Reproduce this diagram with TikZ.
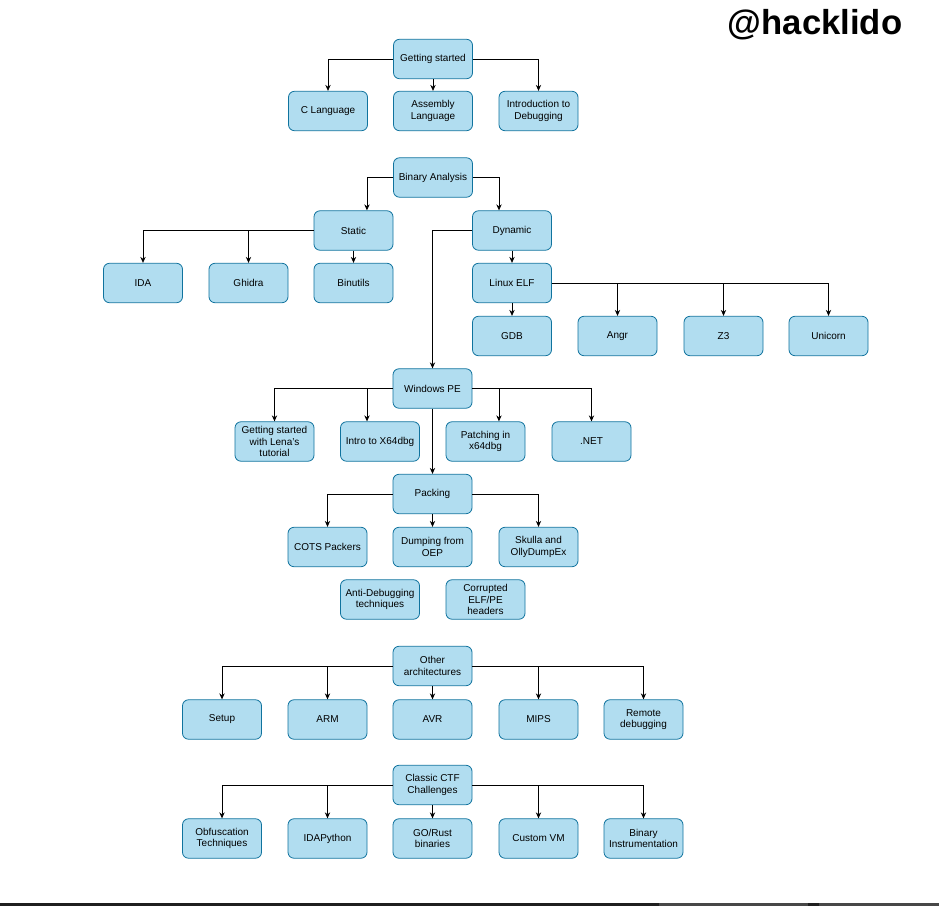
\documentclass[tikz,border=0pt]{standalone}
\usepackage{fontspec}
\setmainfont{Liberation Sans}
\usetikzlibrary{arrows.meta}
\definecolor{boxfill}{HTML}{B1DDF0}
\definecolor{boxline}{HTML}{10739E}
\tikzset{
  topic/.style={draw=boxline, fill=boxfill, rounded corners=4.5pt, line width=0.6pt,
    minimum width=59.25pt, minimum height=29.6pt, inner sep=0pt, align=center,
    font=\fontsize{7.5}{8.8}\selectfont},
  link/.style={draw=black, line width=0.6pt, -{Stealth[length=4.5pt,width=4pt]}},
}
\begin{document}
\begin{tikzpicture}[x=0.75pt,y=-0.75pt]
\useasboundingbox (0,0) rectangle (939,906);
\fill[white] (0,0) rectangle (939,906);
% watermark
\node[font=\fontsize{26}{30}\selectfont\bfseries, text=black] (wm) at (815,25) {@hacklido};
% bottom line
\fill[black!88] (0,903) rectangle (659,906);
\fill[black!72] (659,903) rectangle (808,906);
\fill[black!88] (808,903) rectangle (819,906);
\fill[black!72] (819,903) rectangle (939,906);

% Getting started
\node[topic] (gs) at (433,59) {Getting started};
\node[topic] (cl) at (328,111) {C Language};
\node[topic] (al) at (433,111) {Assembly\\Language};
\node[topic] (idb) at (538.5,111) {Introduction to\\Debugging};
\draw[link] (gs.west) -| (cl.north);
\draw[link] (gs.south) -- (al.north);
\draw[link] (gs.east) -| (idb.north);

% Binary analysis
\node[topic] (ba) at (433,177.5) {Binary Analysis};
\node[topic] (st) at (353.5,230.5) {Static};
\node[topic] (dy) at (512,230.5) {Dynamic};
\node[topic] (ida) at (143,283) {IDA};
\node[topic] (gh) at (248.5,283) {Ghidra};
\node[topic] (bu) at (353.5,283) {Binutils};
\node[topic] (le) at (512,283) {Linux ELF};
\node[topic] (gdb) at (512,336) {GDB};
\node[topic] (an) at (617.5,336) {Angr};
\node[topic] (zz) at (723.5,336) {Z3};
\node[topic] (un) at (828.5,336) {Unicorn};
\draw[link] (ba.west) -| ([xshift=10.1pt]st.north);
\draw[link] (ba.east) -| ([xshift=-9.75pt]dy.north);
\draw[link] (st.west) -| (ida.north);
\draw[link] (st.west) -| (gh.north);
\draw[link] (st.south) -- (bu.north);
\draw[link] (dy.south) -- (le.north);
\draw[link] (le.south) -- (gdb.north);
\draw[link] (le.east) -| (an.north);
\draw[link] (le.east) -| (zz.north);
\draw[link] (le.east) -| (un.north);

% Windows PE
\node[topic] (wp) at (432.5,388.5) {Windows PE};
\draw[link] (dy.west) -| (wp.north);
\node[topic] (lena) at (274.5,441.5) {Getting started\\with Lena's\\tutorial};
\node[topic] (xdbg) at (380,441.5) {Intro to X64dbg};
\node[topic] (pat) at (485.5,441.5) {Patching in\\x64dbg};
\node[topic] (net) at (591.5,441.5) {.NET};
\draw[link] (wp.west) -| (lena.north);
\draw[link] (wp.west) -| ([xshift=-9.75pt]xdbg.north);
\draw[link] (wp.east) -| ([xshift=10.1pt]pat.north);
\draw[link] (wp.east) -| (net.north);

% Packing
\node[topic] (pk) at (432.5,494) {Packing};
\draw[link] (wp.south) -- (pk.north);
\node[topic] (cots) at (327.5,547) {COTS Packers};
\node[topic] (dump) at (432.5,547) {Dumping from\\OEP};
\node[topic] (sk) at (538.5,547) {Skulla and\\OllyDumpEx};
\draw[link] (pk.west) -| (cots.north);
\draw[link] (pk.south) -- (dump.north);
\draw[link] (pk.east) -| (sk.north);
\node[topic] (anti) at (380,599.5) {Anti-Debugging\\techniques};
\node[topic] (cor) at (485.5,599.5) {Corrupted\\ELF/PE\\headers};

% Other architectures
\node[topic] (oa) at (432.5,666) {Other\\architectures};
\node[topic] (setup) at (222,719.5) {Setup};
\node[topic] (arm) at (327.5,719.5) {ARM};
\node[topic] (avr) at (432.5,719.5) {AVR};
\node[topic] (mips) at (538.5,719.5) {MIPS};
\node[topic] (rem) at (643.5,719.5) {Remote\\debugging};
\draw[link] (oa.west) -| (setup.north);
\draw[link] (oa.west) -| (arm.north);
\draw[link] (oa.south) -- (avr.north);
\draw[link] (oa.east) -| (mips.north);
\draw[link] (oa.east) -| (rem.north);

% Classic CTF
\node[topic] (ctf) at (432.5,785) {Classic CTF\\Challenges};
\node[topic] (obf) at (222,838.5) {Obfuscation\\Techniques};
\node[topic] (idap) at (327.5,838.5) {IDAPython};
\node[topic] (gor) at (432.5,838.5) {GO/Rust\\binaries};
\node[topic] (cvm) at (538.5,838.5) {Custom VM};
\node[topic] (bin) at (643.5,838.5) {Binary\\Instrumentation};
\draw[link] (ctf.west) -| (obf.north);
\draw[link] (ctf.west) -| (idap.north);
\draw[link] (ctf.south) -- (gor.north);
\draw[link] (ctf.east) -| (cvm.north);
\draw[link] (ctf.east) -| (bin.north);
\end{tikzpicture}
\end{document}
